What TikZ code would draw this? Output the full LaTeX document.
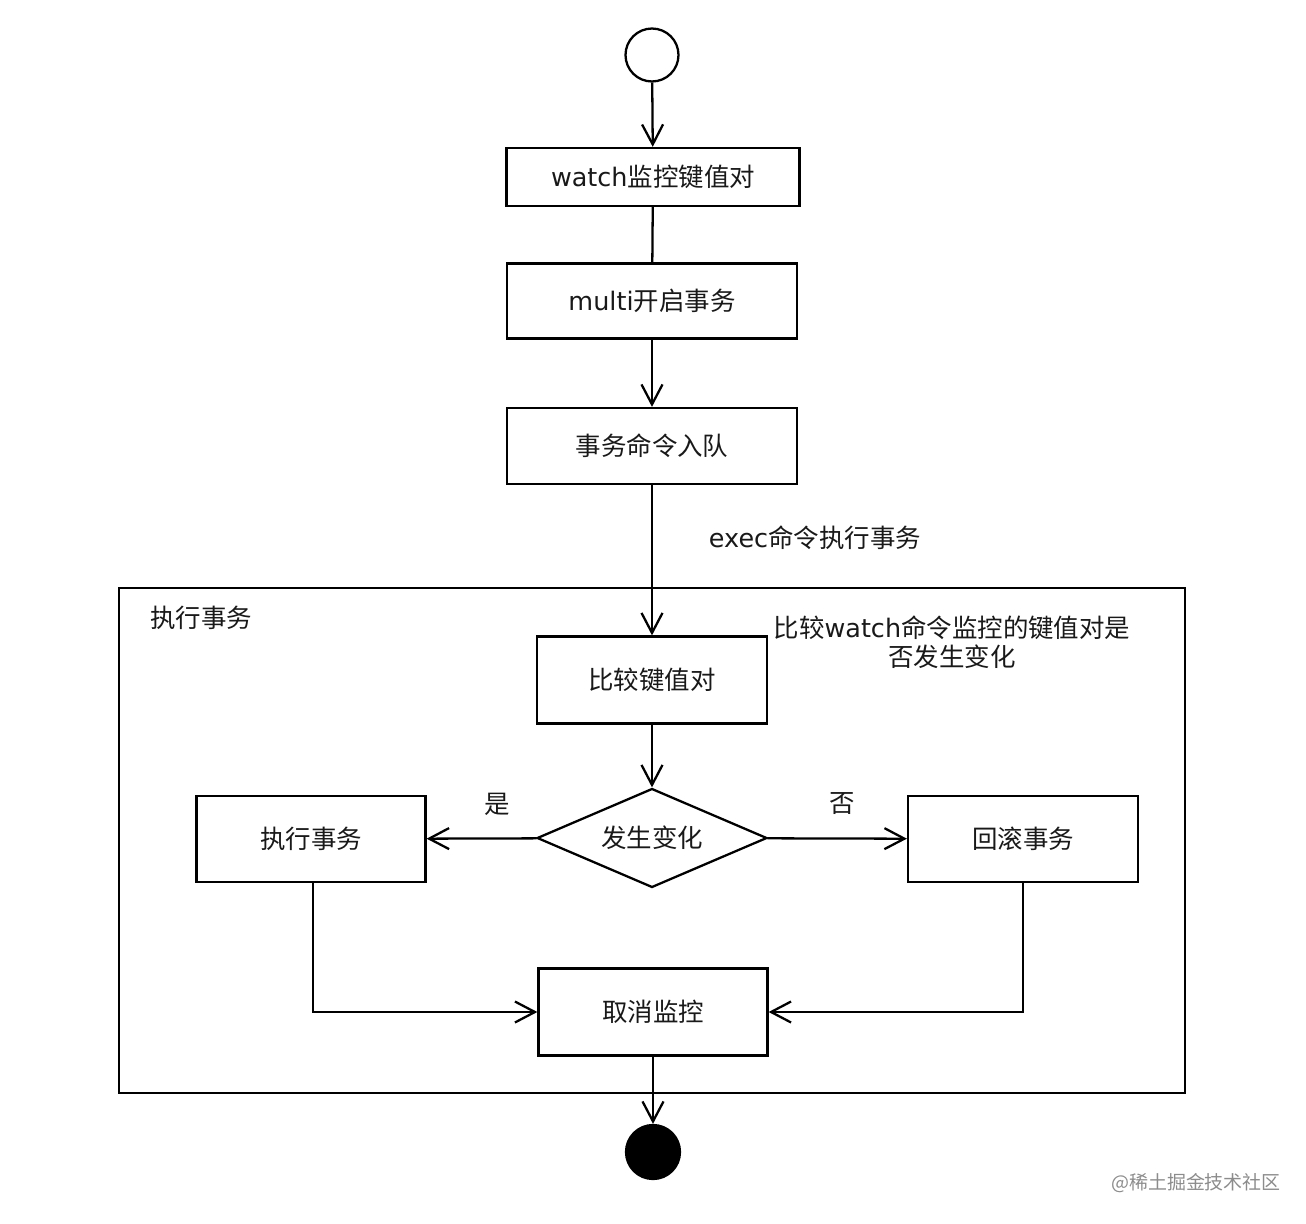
\documentclass[tikz,border=0pt]{standalone}
\usepackage{fontspec}
\setmainfont{Noto Sans CJK SC}
\newfontfamily\dv{DejaVu Sans}
\usetikzlibrary{arrows.meta, shapes.geometric, positioning}

\begin{document}
\begin{tikzpicture}[x=0.02cm, y=-0.02cm, line width=1.3pt,
      >={Straight Barb[length=4mm,width=4.2mm]},
      txt/.style={font=\fontsize{14.5}{16.5}\selectfont, text=black!90},
      b/.style={txt, draw=black, rectangle, inner sep=0pt},
      d/.style={txt, draw=black, diamond, aspect=2.32, inner sep=0pt, minimum width=4.6cm, minimum height=1.98cm},
      c/.style={draw=black, circle, inner sep=0pt, minimum size=1.06cm}]
      \useasboundingbox (0,0) rectangle (1306,1224);

      \draw node[c, fill=white] (s) at (652,55) {};
      \draw node[b, minimum width=5.86cm, minimum height=1.16cm] (w) at (653,177) {{\dv watch}监控键值对};
      \draw node[b, minimum width=5.8cm, minimum height=1.5cm] (m) at (652,301) {{\dv multi}开启事务};
      \draw node[b, minimum width=5.8cm, minimum height=1.52cm] (q) at (652,446) {事务命令入队};
      \draw node[txt] (el) at (815,538) {{\dv exec}命令执行事务};

      % frame
      \draw (119,588) rectangle (1185,1093);
      \draw node[txt] (fl) at (201,618) {执行事务};

      \draw node[b, minimum width=4.6cm, minimum height=1.74cm] (k) at (652,680) {比较键值对};
      \draw node[txt, align=center] (nt) at (952,642) {比较{\dv watch}命令监控的键值对是\\否发生变化};
      \draw node[d] (dc) at (652,838) {发生变化};
      \draw node[b, minimum width=4.58cm, minimum height=1.72cm] (ex) at (311,839) {执行事务};
      \draw node[b, minimum width=4.6cm, minimum height=1.72cm] (rb) at (1023,839) {回滚事务};
      \draw node[txt] (y) at (497,804) {是};
      \draw node[txt] (n) at (842,804) {否};
      \draw node[b, minimum width=4.58cm, minimum height=1.74cm] (cx) at (653,1012) {取消监控};
      \draw node[c, fill=black, minimum size=1.08cm] (e) at (653,1152) {};

      \draw[->] (s) -- (w);
      \draw (w) -- (m);
      \draw[->] (m) -- (q);
      \draw[->] (q) -- (k);
      \draw[->] (k) -- (dc);
      \draw[->] (dc) -- (ex);
      \draw[->] (dc) -- (rb);
      \draw[->] ([xshift=0.04cm]ex.south) |- (cx);
      \draw[->] (rb.south) |- (cx);
      \draw[->] (cx) -- (e);

      \draw node[font=\fontsize{10.8}{12}\selectfont, text=black!45] (wm) at (1196,1183) {@稀土掘金技术社区};
    \end{tikzpicture}
\end{document}
